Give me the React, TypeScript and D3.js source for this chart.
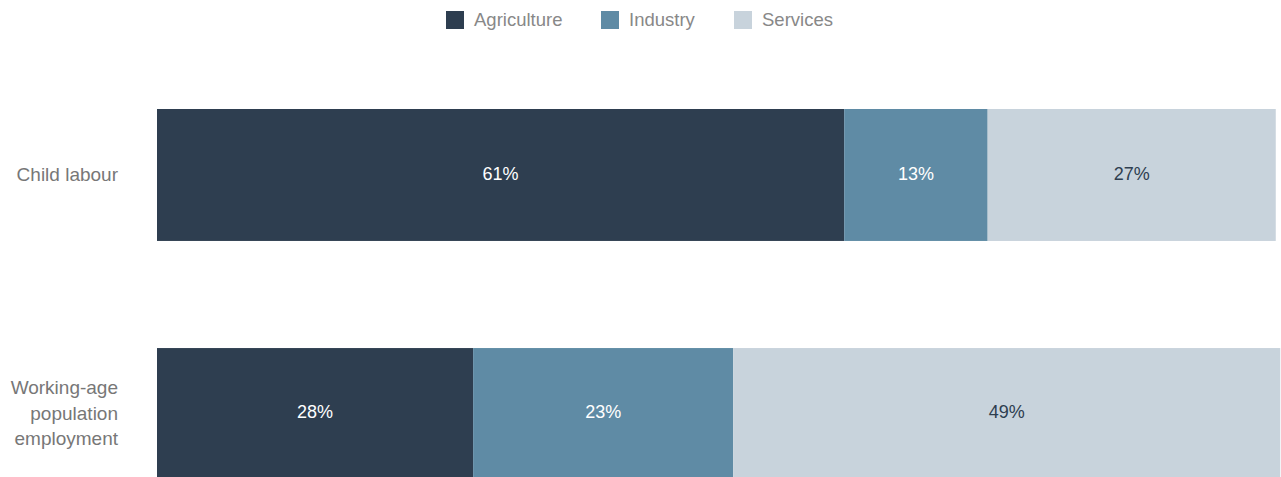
import React, { useEffect, useRef } from "react";
import * as d3 from "d3";

const categories = ["Child labour", "Working-age population employment"];
const categoryLines = [["Child labour"], ["Working-age", "population", "employment"]];
const series = ["Agriculture", "Industry", "Services"];
// shares per category, in series order
const agriculture = [61.3, 28.2];
const industry = [12.8, 23.2];
const services = [25.7, 48.8];
const valueLabels = [
  ["61%", "13%", "27%"],
  ["28%", "23%", "49%"],
];
const colors = ["#2e3e50", "#5f8ba5", "#c8d3dc"];
const labelColors = ["#ffffff", "#ffffff", "#2e3e50"];

const App = () => {
  const ref = useRef<SVGSVGElement>(null);

  useEffect(() => {
    document.body.style.margin = "0";
    const width = 1281;
    const height = 477;
    const font = "'Liberation Sans', Arial, Helvetica, sans-serif";

    const svg = d3.select(ref.current).attr("width", width).attr("height", height);
    svg.selectAll("*").remove();

    const rows = categories.map((c, i) => ({
      name: c,
      Agriculture: agriculture[i],
      Industry: industry[i],
      Services: services[i],
    }));
    const stacked = d3.stack<any>().keys(series)(rows);

    const x = d3.scaleLinear().domain([0, 100]).range([157, 1278]);
    const y = d3.scaleBand().domain(categories).range([109, 480]).paddingInner(0.448).paddingOuter(0);
    // label centre of the visible part of a bar
    const midY = (name: string) => (y(name)! + Math.min(y(name)! + y.bandwidth(), height)) / 2 - 1;

    stacked.forEach((layer, si) => {
      const g = svg.append("g");
      g.selectAll("rect")
        .data(layer)
        .enter()
        .append("rect")
        .attr("x", (d) => x(d[0]))
        .attr("y", (d) => y(d.data.name)!)
        .attr("width", (d) => x(d[1]) - x(d[0]))
        .attr("height", y.bandwidth())
        .attr("fill", colors[si]);
      g.selectAll("text")
        .data(layer)
        .enter()
        .append("text")
        .attr("x", (d) => (x(d[0]) + x(d[1])) / 2)
        .attr("y", (d) => midY(d.data.name))
        .attr("dy", "0.35em")
        .attr("text-anchor", "middle")
        .attr("font-family", font)
        .attr("font-size", 18)
        .attr("fill", labelColors[si])
        .text((d, i) => valueLabels[i][si]);
    });

    // category labels
    categories.forEach((c, i) => {
      const lines = categoryLines[i];
      const cy = y(c)! + y.bandwidth() / 2;
      const lh = 25.5;
      const t = svg.append("text")
        .attr("text-anchor", "end")
        .attr("font-family", font)
        .attr("font-size", 19)
        .attr("fill", "#777777");
      lines.forEach((l, li) => {
        t.append("tspan")
          .attr("x", 118)
          .attr("y", cy + (li - (lines.length - 1) / 2) * lh - 1)
          .attr("dy", "0.35em")
          .text(l);
      });
    });

    // legend
    const legendX = [446, 601, 734];
    const legend = svg.append("g");
    series.forEach((s, i) => {
      legend.append("rect")
        .attr("x", legendX[i])
        .attr("y", 11)
        .attr("width", 18)
        .attr("height", 18)
        .attr("fill", colors[i]);
      legend.append("text")
        .attr("x", legendX[i] + 28)
        .attr("y", 20)
        .attr("dy", "0.35em")
        .attr("font-family", font)
        .attr("font-size", 18.5)
        .attr("fill", "#888888")
        .text(s);
    });
  }, []);

  return <svg ref={ref} style={{ display: "block" }}></svg>;
};

export default App;
